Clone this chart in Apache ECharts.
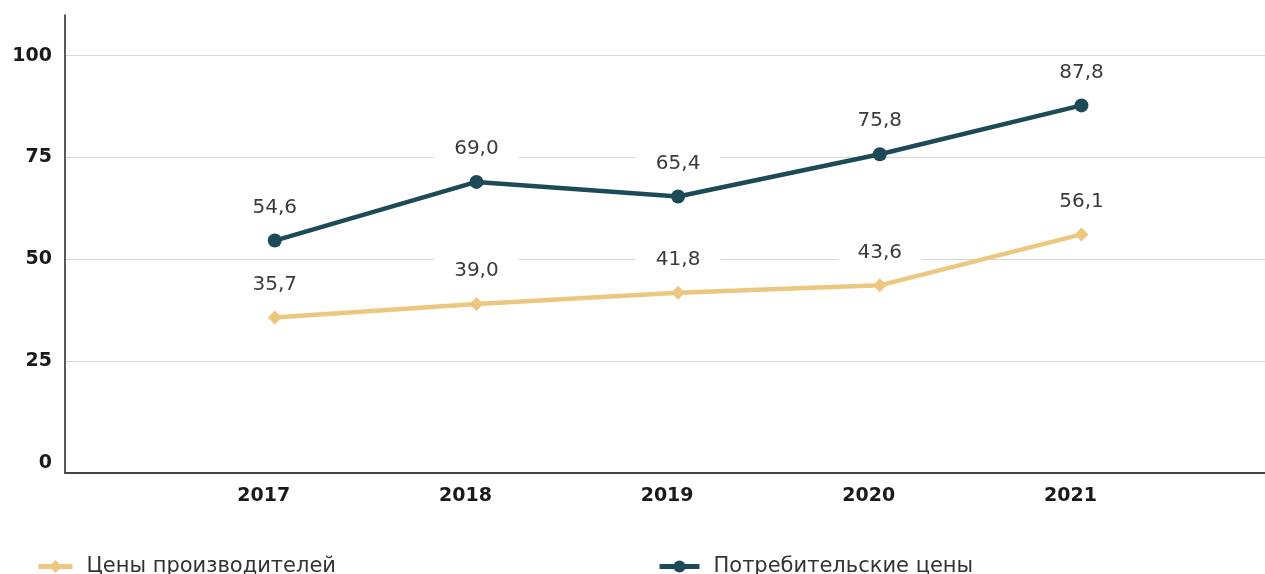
<!DOCTYPE html>
<html>
<head>
<meta charset="utf-8">
<script src="https://cdn.jsdelivr.net/npm/echarts@6/dist/echarts.min.js"></script>
<style>
  html, body { margin: 0; padding: 0; background: #fff; }
  #chart { width: 1265px; height: 574px; }
</style>
</head>
<body>
<div id="chart"></div>
<script>
const years = [2017, 2018, 2019, 2020, 2021]
const producerName = 'Цены производителей'
const consumerName = 'Потребительские цены'
const producerPrices = [35.7, 39.0, 41.8, 43.6, 56.1]
const consumerPrices = [54.6, 69.0, 65.4, 75.8, 87.8]
const yTicks = [0, 25, 50, 75, 100]
const yGridTicks = [25, 50, 75, 100]

const chart = echarts.init(document.getElementById('chart'))

const fmt = v => v.toFixed(1).replace('.', ',')

function lineSeries(name, values, color, symbol, size) {
  return {
    name: name,
    type: 'line',
    data: years.map((y, i) => [y, values[i]]),
    symbol: symbol,
    symbolSize: size,
    lineStyle: { color: color, width: 4.5 },
    itemStyle: { color: color },
    label: {
      show: true,
      position: 'top',
      distance: 13,
      formatter: p => fmt(p.value[1]),
      fontFamily: 'DejaVu Sans',
      fontSize: 20,
      color: '#3b3b3b',
      backgroundColor: '#fff',
      padding: [6, 20, 3, 20]
    },
    emphasis: { disabled: true }
  }
}

const legendText = { fontFamily: 'DejaVu Sans', fontSize: 21, color: '#333', padding: [0, 0, 0, 9] }

chart.setOption({
  animation: false,
  grid: {
    left: 65,
    right: 0,
    top: 15,
    bottom: 101
  },
  legend: [
    {
      data: [producerName],
      left: 31,
      top: 551,
      itemWidth: 34,
      itemHeight: 16,
      lineStyle: { width: 5 },
      textStyle: legendText
    },
    {
      data: [consumerName],
      left: 652,
      top: 551,
      itemWidth: 40,
      itemHeight: 15,
      lineStyle: { width: 5 },
      textStyle: legendText
    }
  ],
  xAxis: {
    type: 'value',
    min: 2015.96,
    max: 2021.91,
    axisLine: { show: true, onZero: false, lineStyle: { color: '#444', width: 2 } },
    axisTick: { show: false },
    splitLine: { show: false },
    axisLabel: {
      customValues: years,
      formatter: v => String(v),
      margin: 14,
      padding: [0, 22, 0, 0],
      fontFamily: 'DejaVu Sans',
      fontWeight: 'bold',
      fontSize: 19,
      color: '#1a1a1a'
    }
  },
  yAxis: {
    type: 'value',
    min: -2.5,
    max: 110,
    axisLine: { show: true, lineStyle: { color: '#222', width: 1.5 } },
    axisTick: { show: false, customValues: yGridTicks },
    splitLine: { show: true, lineStyle: { color: '#d6d6d6', width: 1 } },
    axisLabel: {
      customValues: yTicks,
      margin: 13,
      fontFamily: 'DejaVu Sans',
      fontWeight: 'bold',
      fontSize: 19,
      color: '#1a1a1a'
    }
  },
  series: [
    lineSeries(producerName, producerPrices, '#ecc77f', 'diamond', 14),
    lineSeries(consumerName, consumerPrices, '#1c4b57', 'circle', 14)
  ]
})
</script>
</body>
</html>
